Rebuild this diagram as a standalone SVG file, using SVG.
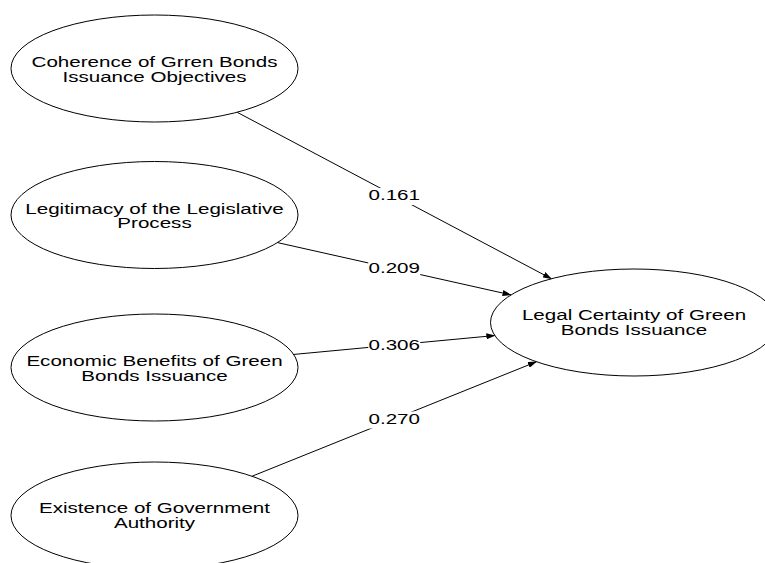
<svg xmlns="http://www.w3.org/2000/svg" width="765" height="563" viewBox="0 0 765 563">
<style>
.node ellipse{fill:#fff;stroke:#000;stroke-width:1}
.node text,.lbl text{font-family:"Liberation Sans",Arial,sans-serif;font-size:14.5px;fill:#000;text-anchor:middle}
.conn line{stroke:#000;stroke-width:1;marker-end:url(#arr)}
.lbl rect{fill:#fff}
</style>
<defs>
<marker id="arr" markerUnits="userSpaceOnUse" markerWidth="9" markerHeight="6" refX="8.5" refY="3" orient="auto">
<path d="M0,0 L9,3 L0,6 z" fill="#000"/>
</marker>
</defs>
<rect width="765" height="563" fill="#fff"/>
<g id="connectors" class="conn">
<line x1="237.1" y1="112.25" x2="551.4" y2="278.75"/>
<line x1="277.5" y1="242.6" x2="511.0" y2="294.9"/>
<line x1="293.66" y1="354.44" x2="494.84" y2="335.56"/>
<line x1="252.0" y1="476.25" x2="536.5" y2="361.75"/>
</g>
<g id="labels" class="lbl">
<rect x="368.25" y="188" width="52" height="17"/>
<text transform="translate(394.25,200) scale(1.42,1)">0.161</text>
<rect x="368.25" y="261.25" width="52" height="17"/>
<text transform="translate(394.25,273.25) scale(1.42,1)">0.209</text>
<rect x="368.25" y="337.5" width="52" height="17"/>
<text transform="translate(394.25,349.5) scale(1.42,1)">0.306</text>
<rect x="368.25" y="411.5" width="52" height="17"/>
<text transform="translate(394.25,423.5) scale(1.42,1)">0.270</text>
</g>
<g id="n1" class="node">
<ellipse cx="154.5" cy="68.5" rx="143.5" ry="53.5"/>
<text transform="translate(154.5,66.7) scale(1.42,1)"><tspan x="0">Coherence of Grren Bonds</tspan><tspan x="0" dy="15">Issuance Objectives</tspan></text>
</g>
<g id="n2" class="node">
<ellipse cx="154.5" cy="215" rx="143.5" ry="53.5"/>
<text transform="translate(154.5,213.5) scale(1.42,1)"><tspan x="0">Legitimacy of the Legislative</tspan><tspan x="0" dy="15">Process</tspan></text>
</g>
<g id="n3" class="node">
<ellipse cx="154.5" cy="367.5" rx="143.5" ry="53.5"/>
<text transform="translate(154.5,365.7) scale(1.42,1)"><tspan x="0">Economic Benefits of Green</tspan><tspan x="0" dy="15">Bonds Issuance</tspan></text>
</g>
<g id="n4" class="node">
<ellipse cx="154.5" cy="515.5" rx="143.5" ry="53.5"/>
<text transform="translate(154.5,513) scale(1.42,1)"><tspan x="0">Existence of Government</tspan><tspan x="0" dy="15">Authority</tspan></text>
</g>
<g id="n5" class="node">
<ellipse cx="634" cy="322.5" rx="143.5" ry="53.5"/>
<text transform="translate(634,320) scale(1.42,1)"><tspan x="0">Legal Certainty of Green</tspan><tspan x="0" dy="15.5">Bonds Issuance</tspan></text>
</g>
</svg>
